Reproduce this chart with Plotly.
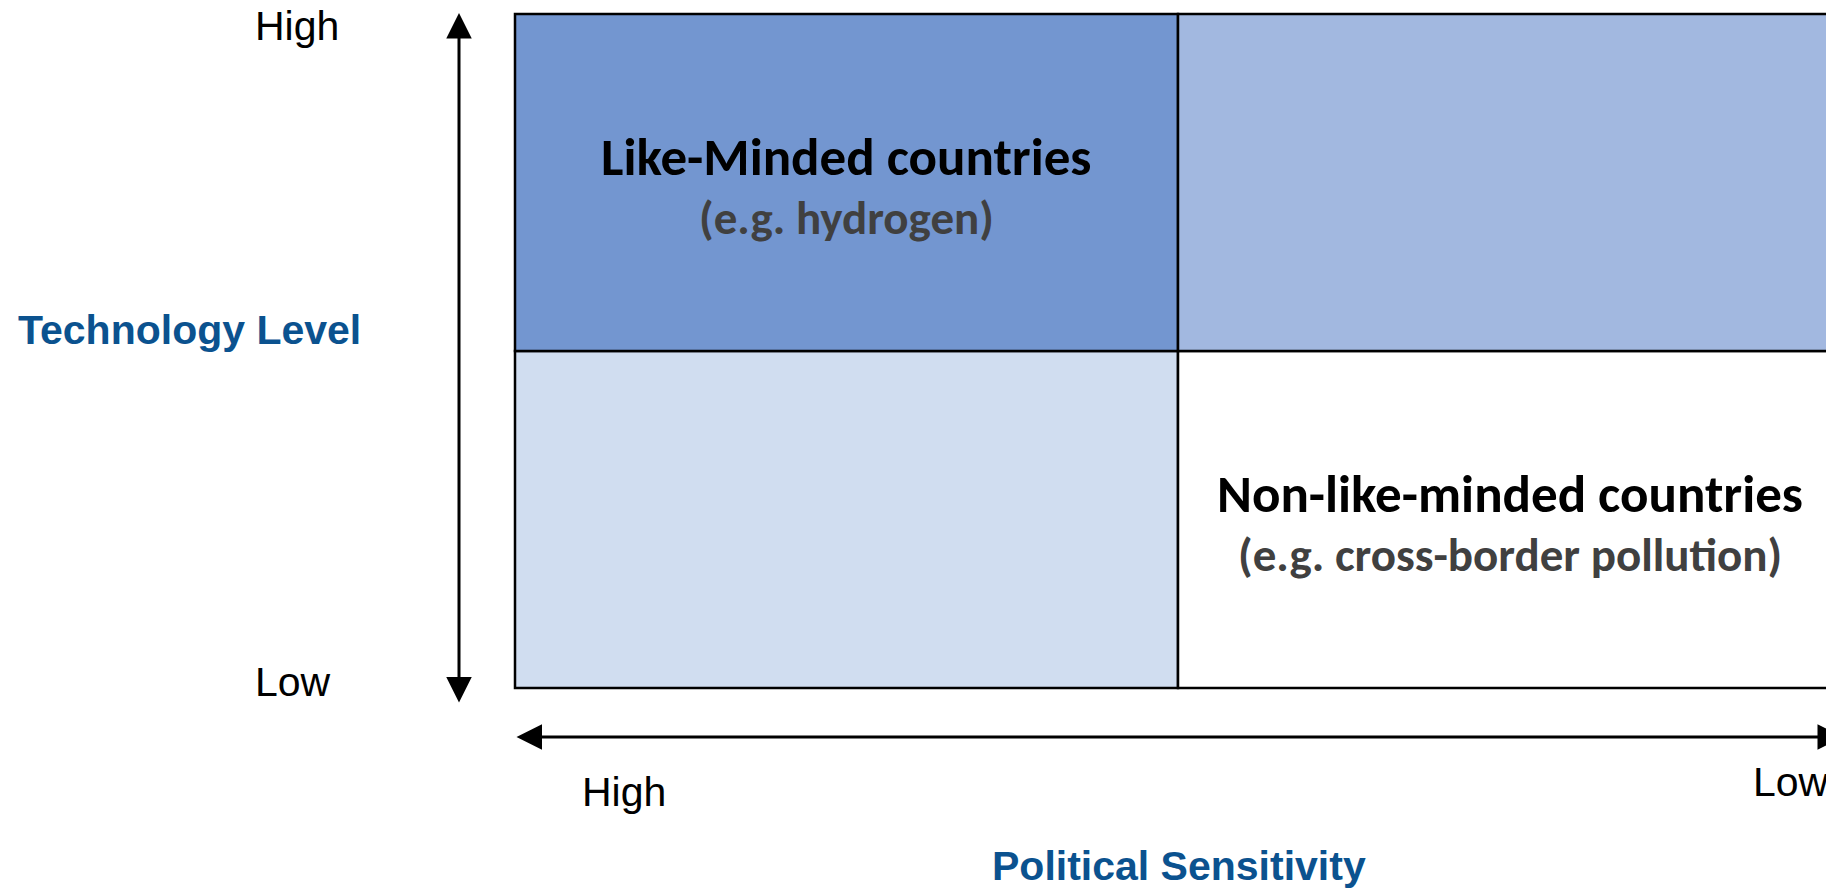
import plotly.graph_objects as go

# ---- data ----
sensitivity = ["High", "Low"]        # political sensitivity, left -> right
tech_level = ["Low", "High"]         # technology level, bottom -> top
cell_titles = [["", "Non-like-minded countries"],
               ["Like-Minded countries", ""]]
cell_examples = [["", "(e.g. cross-border pollution)"],
                 ["(e.g. hydrogen)", ""]]
x_title = "Political Sensitivity"
y_title = "Technology Level"

# ---- style ----
cell_colors = [["#D0DDF0", "#FFFFFF"],
               ["#7396D0", "#A2B8E0"]]
AXIS_BLUE = "#0B528F"
CAL = "Carlito, Lato, sans-serif"
ARI = "Liberation Sans, Arial, sans-serif"

W, H = 1826, 889
X0, XU = 515, 663     # pixel of x=0, pixels per unit
Y0, YU = 688, 337     # pixel of y=0, pixels per unit


def px(p):
    return (p - X0) / XU


def py(p):
    return (Y0 - p) / YU


fig = go.Figure()
for r, lvl in enumerate(tech_level):
    fig.add_bar(
        x=[i + 0.5 for i in range(len(sensitivity))],
        y=[1] * len(sensitivity),
        base=[r] * len(sensitivity),
        width=1,
        marker=dict(color=cell_colors[r], line=dict(color="black", width=2.5)),
        showlegend=False, hoverinfo="skip",
    )

ann = []
for r in range(len(tech_level)):
    for c in range(len(sensitivity)):
        if cell_titles[r][c]:
            ann.append(dict(x=c + 0.5, y=r + 0.5, xref="x", yref="y", yshift=26,
                            text="<b>" + cell_titles[r][c] + "</b>", showarrow=False,
                            font=dict(family=CAL, size=53, color="black")))
        if cell_examples[r][c]:
            ann.append(dict(x=c + 0.5, y=r + 0.5, xref="x", yref="y", yshift=-35,
                            text="<b>" + cell_examples[r][c] + "</b>", showarrow=False,
                            font=dict(family=CAL, size=47, color="#404040")))

# level labels
ann += [
    dict(x=px(253), y=py(26), text=tech_level[1], xanchor="left"),
    dict(x=px(253), y=py(682), text=tech_level[0], xanchor="left"),
    dict(x=px(624), y=py(792), text=sensitivity[0], xanchor="center"),
    dict(x=px(1751), y=py(782), text=sensitivity[1], xanchor="left"),
]
for a in ann[-4:]:
    a.update(xref="x", yref="y", showarrow=False, yanchor="middle",
             font=dict(family=ARI, size=41, color="black"))

ann += [
    dict(x=px(16), y=py(330), xref="x", yref="y", xanchor="left", showarrow=False,
         text="<b>" + y_title + "</b>", font=dict(family=ARI, size=41, color=AXIS_BLUE)),
    dict(x=px(1178.5), y=py(866), xref="x", yref="y", xanchor="center", showarrow=False,
         text="<b>" + x_title + "</b>", font=dict(family=ARI, size=41, color=AXIS_BLUE)),
]

# arrows
arrow_style = dict(text="", showarrow=True, xref="x", yref="y", axref="x", ayref="y",
                   arrowhead=2, arrowsize=1.7, arrowwidth=3, arrowcolor="black",
                   arrowside="end+start", startarrowhead=2, startarrowsize=1.7,
                   standoff=0, startstandoff=0)
ann.append(dict(x=px(459), y=py(13), ax=px(459), ay=py(704), **arrow_style))
ann.append(dict(x=px(1843), y=py(737), ax=px(515), ay=py(737), **arrow_style))

fig.update_layout(
    width=W, height=H, autosize=False,
    margin=dict(l=0, r=0, t=0, b=0),
    paper_bgcolor="white", plot_bgcolor="white",
    barmode="overlay",
    xaxis=dict(range=[px(0), px(W)], visible=False, fixedrange=True),
    yaxis=dict(range=[py(H), py(0)], visible=False, fixedrange=True),
    annotations=ann,
)

fig.write_html("out.html", config={"displayModeBar": False},
               post_script="document.body.style.margin='0';document.body.style.overflow='hidden';")
